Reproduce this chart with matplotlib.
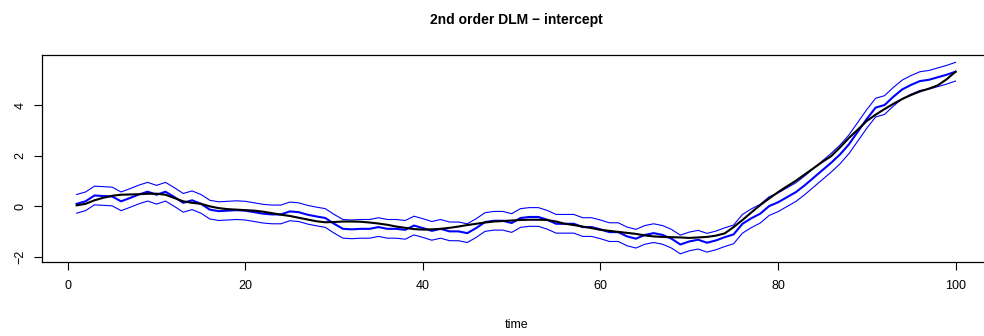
import matplotlib
matplotlib.use("Agg")
import matplotlib.pyplot as plt
import numpy as np

plt.rcParams["font.family"] = ["Liberation Sans", "DejaVu Sans"]

# time index and series
time = list(range(1, 101))

# smoothed estimate of the intercept (thick blue)
level_est = [
    0.09, 0.19, 0.42, 0.40, 0.38, 0.19, 0.32, 0.46, 0.57, 0.45,
    0.57, 0.36, 0.13, 0.23, 0.09, -0.14, -0.20, -0.18, -0.16, -0.18,
    -0.24, -0.30, -0.33, -0.33, -0.21, -0.24, -0.34, -0.41, -0.47, -0.70,
    -0.90, -0.92, -0.90, -0.90, -0.83, -0.90, -0.90, -0.94, -0.77, -0.87,
    -0.98, -0.90, -1.00, -1.00, -1.07, -0.87, -0.63, -0.58, -0.58, -0.67,
    -0.47, -0.43, -0.43, -0.54, -0.70, -0.70, -0.70, -0.83, -0.83, -0.92,
    -1.03, -1.03, -1.20, -1.29, -1.14, -1.07, -1.14, -1.29, -1.52, -1.40,
    -1.33, -1.45, -1.36, -1.23, -1.12, -0.70, -0.48, -0.30, 0.00, 0.15,
    0.35, 0.55, 0.82, 1.12, 1.42, 1.72, 2.05, 2.45, 2.95, 3.45,
    3.90, 4.00, 4.33, 4.62, 4.80, 4.95, 5.00, 5.10, 5.20, 5.32,
]

# true intercept (black)
level_true = [
    0.03, 0.09, 0.23, 0.33, 0.41, 0.45, 0.46, 0.47, 0.49, 0.49,
    0.45, 0.32, 0.19, 0.13, 0.09, -0.01, -0.08, -0.12, -0.14, -0.16,
    -0.18, -0.22, -0.28, -0.34, -0.39, -0.46, -0.53, -0.60, -0.64, -0.63,
    -0.61, -0.61, -0.62, -0.65, -0.69, -0.74, -0.81, -0.86, -0.91, -0.93,
    -0.92, -0.90, -0.86, -0.81, -0.75, -0.70, -0.65, -0.61, -0.59, -0.57,
    -0.55, -0.54, -0.54, -0.55, -0.61, -0.70, -0.75, -0.81, -0.87, -0.94,
    -0.98, -1.02, -1.06, -1.10, -1.16, -1.20, -1.22, -1.23, -1.24, -1.26,
    -1.24, -1.22, -1.17, -1.08, -0.83, -0.55, -0.25, 0.04, 0.30, 0.55,
    0.78, 1.00, 1.25, 1.50, 1.75, 1.98, 2.33, 2.70, 3.03, 3.37,
    3.62, 3.84, 4.05, 4.24, 4.40, 4.54, 4.65, 4.78, 5.02, 5.32,
]

# half width of the interval around the estimate
band_half = 0.37

x_ticks = [0, 20, 40, 60, 80, 100]
y_ticks = [-2, 0, 2, 4]

est = np.array(level_est)
upper = est + band_half
lower = est - band_half

fig = plt.figure(figsize=(9.84, 3.36), dpi=100)
ax = fig.add_axes([0.0422, 0.2217, 0.9646, 0.6155])

ax.plot(time, upper, color="#0000FF", lw=0.8)
ax.plot(time, lower, color="#0000FF", lw=0.8)
ax.plot(time, est, color="#0000FF", lw=1.5)
ax.plot(time, level_true, color="black", lw=1.5)

# R-style 4% padding on both axes
xmin, xmax = min(time), max(time)
ax.set_xlim(xmin - 0.04 * (xmax - xmin), xmax + 0.04 * (xmax - xmin))
ymin, ymax = lower.min(), upper.max()
ax.set_ylim(ymin - 0.04 * (ymax - ymin), ymax + 0.04 * (ymax - ymin))

ax.set_xticks(x_ticks)
ax.set_yticks(y_ticks)
ax.set_yticklabels([str(v).replace("-", "\u2212") for v in y_ticks],
                   rotation=90, va="center")
ax.tick_params(direction="out", length=6, width=0.8, labelsize=9,
               pad=7, color="black")
ax.tick_params(axis="y", pad=5)
for s in ax.spines.values():
    s.set_linewidth(0.9)

ax.set_xlabel("time", fontsize=9, labelpad=20)
ax.set_title("2nd order DLM \u2212 intercept", fontsize=10, fontweight="bold",
             pad=22)

fig.savefig("out.png", dpi=100)
